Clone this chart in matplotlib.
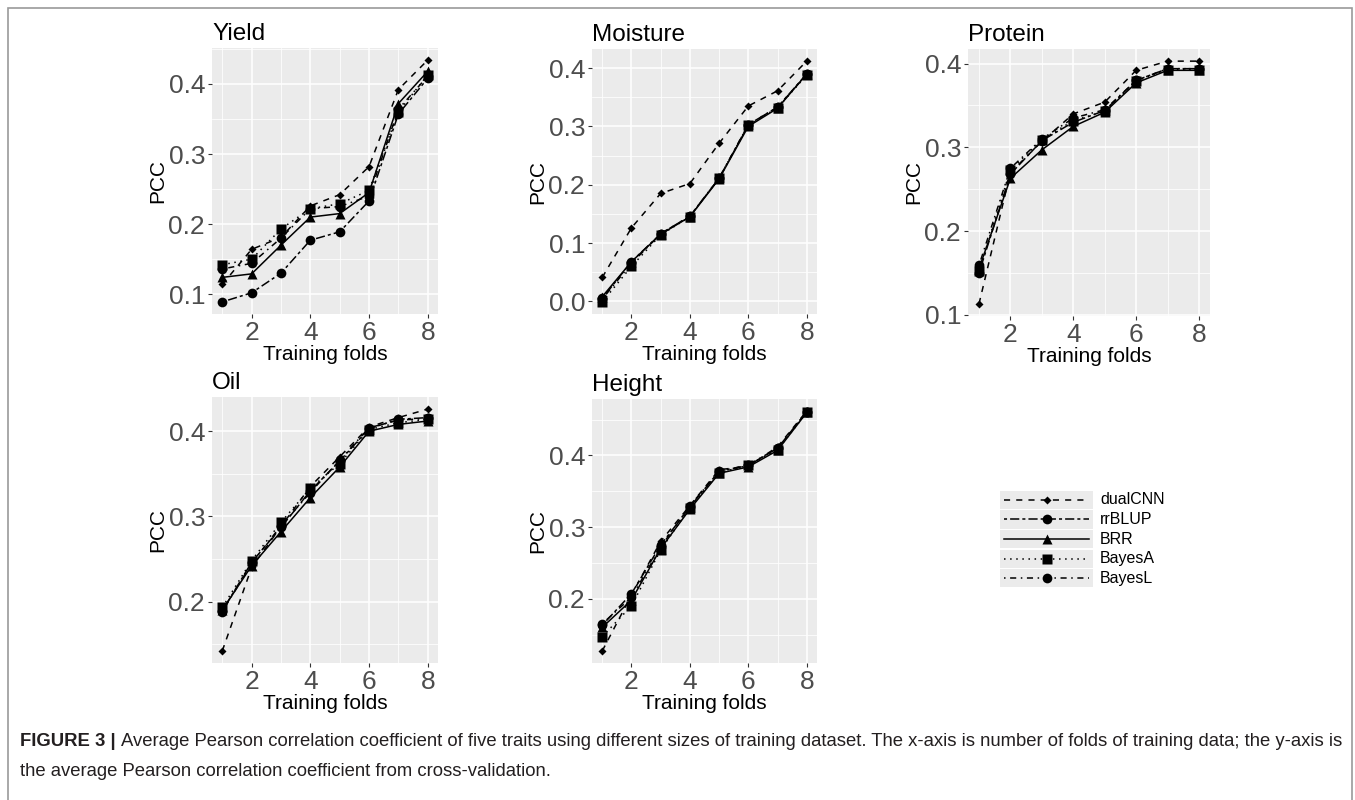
import numpy as np
import matplotlib
matplotlib.use('Agg')
import matplotlib.pyplot as plt
from matplotlib.ticker import FixedLocator, MultipleLocator, FormatStrFormatter
from matplotlib.patches import Rectangle

plt.rcParams['font.family'] = ['Liberation Sans', 'DejaVu Sans']

# ── Data ─────────────────────────────────────────────────────────────────────
folds = [1, 2, 3, 4, 5, 6, 7, 8]
methods = ['dualCNN', 'rrBLUP', 'BRR', 'BayesA', 'BayesL']

yield_pcc = {
    'dualCNN': [0.114, 0.164, 0.181, 0.226, 0.242, 0.282, 0.392, 0.434],
    'rrBLUP':  [0.089, 0.102, 0.130, 0.177, 0.189, 0.233, 0.357, 0.408],
    'BRR':     [0.124, 0.129, 0.170, 0.210, 0.215, 0.245, 0.372, 0.418],
    'BayesA':  [0.142, 0.150, 0.193, 0.222, 0.229, 0.248, 0.360, 0.413],
    'BayesL':  [0.136, 0.144, 0.180, 0.222, 0.225, 0.240, 0.364, 0.411],
}
moisture_pcc = {
    'dualCNN': [0.041, 0.126, 0.185, 0.202, 0.271, 0.335, 0.361, 0.412],
    'rrBLUP':  [0.005, 0.068, 0.116, 0.146, 0.211, 0.303, 0.333, 0.390],
    'BRR':     [0.008, 0.068, 0.115, 0.145, 0.210, 0.300, 0.331, 0.390],
    'BayesA':  [-0.001, 0.060, 0.114, 0.145, 0.212, 0.302, 0.332, 0.388],
    'BayesL':  [0.004, 0.065, 0.116, 0.146, 0.211, 0.303, 0.333, 0.389],
}
protein_pcc = {
    'dualCNN': [0.113, 0.270, 0.307, 0.340, 0.354, 0.392, 0.403, 0.403],
    'rrBLUP':  [0.150, 0.268, 0.308, 0.330, 0.344, 0.380, 0.394, 0.394],
    'BRR':     [0.155, 0.263, 0.297, 0.325, 0.342, 0.377, 0.392, 0.392],
    'BayesA':  [0.152, 0.273, 0.309, 0.332, 0.343, 0.379, 0.393, 0.393],
    'BayesL':  [0.159, 0.275, 0.310, 0.335, 0.345, 0.380, 0.394, 0.394],
}
oil_pcc = {
    'dualCNN': [0.142, 0.240, 0.288, 0.335, 0.370, 0.405, 0.416, 0.426],
    'rrBLUP':  [0.189, 0.246, 0.287, 0.330, 0.365, 0.403, 0.414, 0.416],
    'BRR':     [0.190, 0.242, 0.282, 0.322, 0.358, 0.400, 0.408, 0.412],
    'BayesA':  [0.193, 0.248, 0.293, 0.333, 0.362, 0.402, 0.410, 0.414],
    'BayesL':  [0.188, 0.245, 0.289, 0.328, 0.366, 0.404, 0.413, 0.415],
}
height_pcc = {
    'dualCNN': [0.127, 0.205, 0.280, 0.330, 0.380, 0.385, 0.412, 0.462],
    'rrBLUP':  [0.163, 0.207, 0.275, 0.328, 0.378, 0.386, 0.410, 0.461],
    'BRR':     [0.160, 0.198, 0.270, 0.325, 0.375, 0.384, 0.407, 0.460],
    'BayesA':  [0.147, 0.190, 0.268, 0.327, 0.376, 0.386, 0.408, 0.460],
    'BayesL':  [0.165, 0.202, 0.272, 0.330, 0.377, 0.387, 0.410, 0.461],
}

# ── Styles (ggplot linetypes / shapes) ──────────────────────────────────────
STYLE = {
    'dualCNN': dict(ls=(0, (4, 4)),       marker='D', ms=4.5),
    'rrBLUP':  dict(ls=(0, (2, 2, 6, 2)), marker='o', ms=7.0),
    'BRR':     dict(ls='-',               marker='^', ms=7.5),
    'BayesA':  dict(ls=(0, (1, 3)),       marker='s', ms=6.5),
    'BayesL':  dict(ls=(0, (1, 3, 4, 3)), marker='o', ms=7.0),
}

W, H = 1355, 800
fig = plt.figure(figsize=(W / 100, H / 100), dpi=100)


def px_axes(x0, y0, x1, y1):
    return fig.add_axes([x0 / W, 1 - y1 / H, (x1 - x0) / W, (y1 - y0) / H])


PANELS = [
    ('Yield',    yield_pcc,    (212, 48, 438, 314)),
    ('Moisture', moisture_pcc, (592, 49, 817, 314)),
    ('Protein',  protein_pcc,  (968, 49, 1210, 316)),
    ('Oil',      oil_pcc,      (212, 397, 438, 663)),
    ('Height',   height_pcc,   (592, 399, 817, 663)),
]

for title, data, box in PANELS:
    ax = px_axes(*box)
    ax.set_facecolor('#EBEBEB')
    for m in methods:
        st = STYLE[m]
        ax.plot(folds, data[m], color='black', lw=1.1, ls=st['ls'],
                marker=st['marker'], ms=st['ms'], mec='none', mfc='black')
    ax.margins(x=0.05, y=0.05)
    ax.xaxis.set_major_locator(FixedLocator([2, 4, 6, 8]))
    ax.xaxis.set_minor_locator(FixedLocator([1, 3, 5, 7]))
    ax.yaxis.set_major_locator(MultipleLocator(0.1))
    ax.yaxis.set_minor_locator(MultipleLocator(0.05))
    ax.yaxis.set_major_formatter(FormatStrFormatter('%.1f'))
    ax.grid(which='major', color='white', lw=1.1)
    ax.grid(which='minor', color='white', lw=0.55)
    ax.set_axisbelow(True)
    for s in ax.spines.values():
        s.set_visible(False)
    ax.tick_params(which='major', length=3, width=0.8, color='#333333',
                   labelsize=19, labelcolor='#4D4D4D', pad=2)
    ax.tick_params(which='minor', length=0)
    ax.set_xlabel('Training folds', fontsize=15, labelpad=0)
    ax.set_ylabel('PCC', fontsize=15, labelpad=1)
    ax.set_title(title, loc='left', fontsize=17.5, pad=6)

# ── Legend (drawn as ggplot-style key boxes) ────────────────────────────────
lax = px_axes(1000, 490, 1180, 588)
lax.set_xlim(0, 180)
lax.set_ylim(98, 0)
lax.axis('off')
row_h = 98 / 5
for i, m in enumerate(methods):
    st = STYLE[m]
    y0 = i * row_h
    lax.add_patch(Rectangle((0, y0 + 0.7), 93, row_h - 1.4, color='#EBEBEB', lw=0))
    yc = y0 + row_h / 2
    lax.plot([4, 89], [yc, yc], color='black', lw=1.1, ls=st['ls'])
    lax.plot([46.5], [yc], color='black', marker=st['marker'], ms=st['ms'], mec='none')
    lax.text(100, yc, m, fontsize=11.5, va='center', ha='left')

# ── Frame and caption ───────────────────────────────────────────────────────
fig.add_artist(Rectangle((8 / W, -0.01), (1352 - 8) / W, 1 - 8 / H + 0.01,
                         transform=fig.transFigure, fill=False,
                         ec='#9A9A9A', lw=1.2))

cap_color = '#231F20'
t1 = fig.text(20 / W, 1 - 742 / H, 'FIGURE 3 |', fontsize=13.3, fontweight='bold',
              color=cap_color, va='center', ha='left')
renderer = fig.canvas.get_renderer()
bb = t1.get_window_extent(renderer=renderer)
fig.text((bb.x1 + 5) / W, 1 - 742 / H,
         'Average Pearson correlation coefficient of five traits using different sizes '
         'of training dataset. The x-axis is number of folds of training data; the y-axis is',
         fontsize=13.3, color=cap_color, va='center', ha='left')
fig.text(20 / W, 1 - 771 / H,
         'the average Pearson correlation coefficient from cross-validation.',
         fontsize=13.3, color=cap_color, va='center', ha='left')

fig.savefig('out.png', dpi=100)
